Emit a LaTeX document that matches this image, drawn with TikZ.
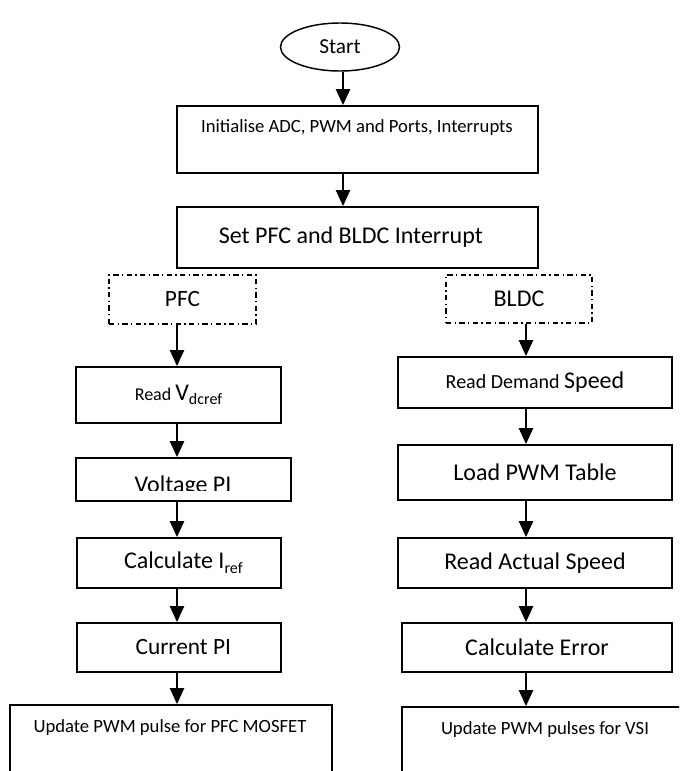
\documentclass[tikz,border=0pt]{standalone}
\usepackage{fontspec}
\setmainfont{Carlito}
\usetikzlibrary{shapes.geometric,arrows.meta}
\newcommand{\fsz}[1]{\fontsize{#1}{#1}\selectfont}
\tikzset{
  box/.style={draw, line width=1.3pt, inner sep=0pt},
  subtask/.style={draw, line width=1pt, dash pattern=on 4pt off 2.5pt on 1pt off 2.5pt, inner sep=0pt},
  term/.style={draw, ellipse, line width=1.1pt, inner sep=0pt},
  arr/.style={-{Triangle[length=12pt,width=10.5pt]}, line width=1.8pt},
}
\begin{document}
\begin{tikzpicture}[x=0.75pt,y=-0.75pt]
          \clip (0,0) rectangle (679,771);
          \coordinate (mx) at (343,0);
          \coordinate (lx) at (177,0);
          \coordinate (rx) at (526,0);
          % common part
          \node[term, minimum width=89.25pt, minimum height=36pt] (start) at (340,47) {\fsz{16}Start};
          \node[box, minimum width=270.75pt, minimum height=50.25pt] (init) at (357.5,139.5) {};
          \node (initlbl) at (357,128) {\fsz{14}Initialise ADC, PWM and Ports, Interrupts};
          \node[box, minimum width=270.75pt, minimum height=45.75pt] (setint) at (357.5,237.5) {\fsz{18}Set PFC and BLDC Interrupt\hspace*{10pt}};
          % PFC branch
          \node[subtask, minimum width=110.25pt, minimum height=36.75pt] (pfc) at (182.5,299.5) {\fsz{17.5}PFC};
          \node[box, minimum width=153.75pt, minimum height=42pt] (rdv) at (178.5,395) {{\fsz{13.5}Read }{\fsz{18}V}\raisebox{-3.5pt}{\fsz{12}dcref}};
          \node[box, minimum width=161.25pt, minimum height=32.25pt] (vpi) at (183.5,479.5) {};
          \begin{scope}
            \clip (76,458) rectangle (291,490);
            \node[anchor=base] (vpilbl) at (183,492) {\fsz{18}Voltage PI};
          \end{scope}
          \node[box, minimum width=153pt, minimum height=37.5pt] (ciref) at (179,563) {\hspace*{6.5pt}{\fsz{18}Calculate I}\raisebox{-3.5pt}{\fsz{12}ref}};
          \node[box, minimum width=153pt, minimum height=36.75pt] (cpi) at (179,647.5) {\hspace*{6.5pt}\fsz{17.5}Current PI};
          \node[box, minimum width=241.5pt, minimum height=71.25pt] (upfc) at (171,752.5) {};
          \node (upfclbl) at (170,728) {\fsz{14}Update PWM pulse for PFC MOSFET};
          % BLDC branch
          \node[subtask, minimum width=109.5pt, minimum height=36pt] (bldc) at (519,299) {\fsz{18}BLDC};
          \node[box, minimum width=205.5pt, minimum height=38.25pt] (rds) at (535,382.5) {{\fsz{15}Read Demand }{\fsz{18}Speed}};
          \node[box, minimum width=205.5pt, minimum height=41.25pt] (lpwm) at (535,472.5) {\fsz{18}Load PWM Table};
          \node[box, minimum width=205.5pt, minimum height=37.5pt] (ras) at (535,563) {\fsz{18}Read Actual Speed};
          \node[box, minimum width=202.5pt, minimum height=36.75pt] (cerr) at (537,647.5) {\fsz{18}Calculate Error};
          \node[box, minimum width=214.5pt, minimum height=69.75pt] (uvsi) at (545,753.5) {};
          \node (uvsilbl) at (545,730) {\fsz{14}Update PWM pulses for VSI};
          % arrows
          \draw[arr] (start.south -| mx) -- (init.north -| mx);
          \draw[arr] (init.south -| mx) -- (setint.north -| mx);
          \draw[arr] (pfc.south -| lx) -- (rdv.north -| lx);
          \draw[arr] (rdv.south -| lx) -- (vpi.north -| lx);
          \draw[arr] (vpi.south -| lx) -- (ciref.north -| lx);
          \draw[arr] (ciref.south -| lx) -- (cpi.north -| lx);
          \draw[arr] (cpi.south -| lx) -- (upfc.north -| lx);
          \draw[arr] (bldc.south -| rx) -- (rds.north -| rx);
          \draw[arr] (rds.south -| rx) -- (lpwm.north -| rx);
          \draw[arr] (lpwm.south -| rx) -- (ras.north -| rx);
          \draw[arr] (ras.south -| rx) -- (cerr.north -| rx);
          \draw[arr] (cerr.south -| rx) -- (uvsi.north -| rx);
        \end{tikzpicture}
\end{document}
